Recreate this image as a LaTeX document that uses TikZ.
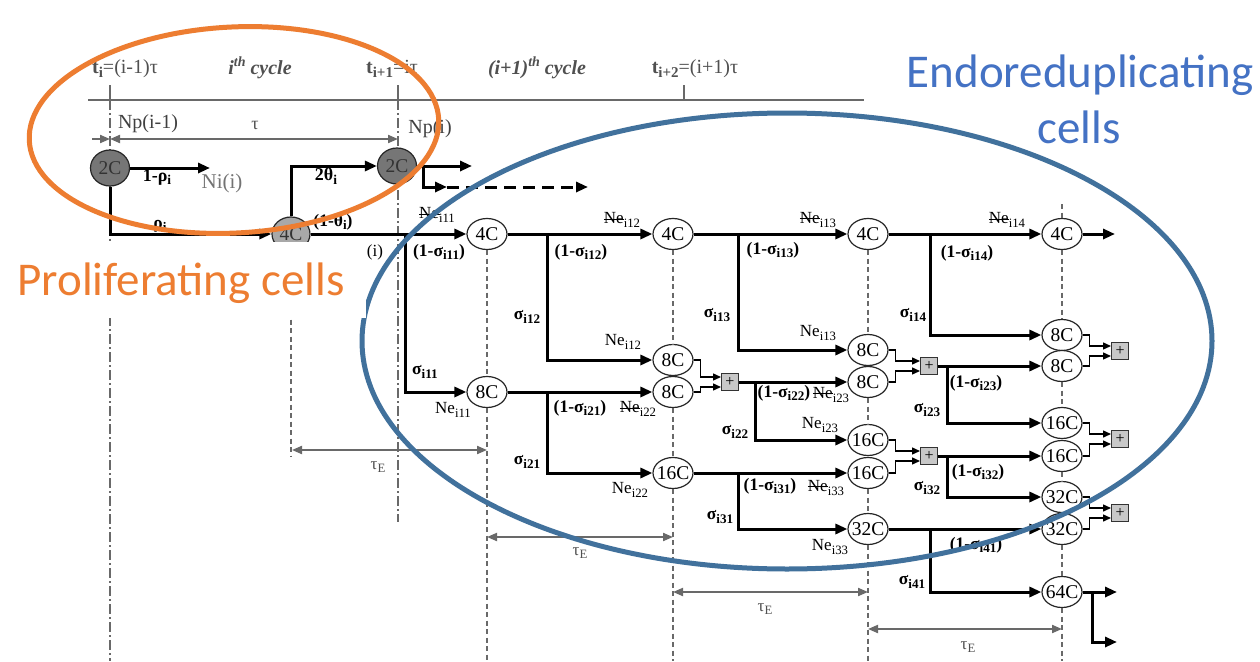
\documentclass[tikz,border=0pt]{standalone}
\usepackage{fontspec}
\setmainfont{Liberation Serif}
\newfontfamily\calib{Carlito}
\usetikzlibrary{arrows.meta,shapes.geometric}
\definecolor{orng}{RGB}{237,125,49}
\definecolor{blueE}{RGB}{65,113,156}
\definecolor{blueT}{RGB}{68,114,196}
\definecolor{gtxt}{RGB}{80,80,80}
\definecolor{gline}{RGB}{105,105,105}
\definecolor{gfillA}{RGB}{118,118,118}
\definecolor{gfillB}{RGB}{168,168,168}
\definecolor{pfill}{RGB}{200,200,200}
\newcommand{\sbs}[1]{\raisebox{-0.45ex}{\scalebox{0.75}{#1}}}
\newcommand{\sps}[1]{\raisebox{0.9ex}{\scalebox{0.7}{#1}}}
\newcommand{\stNe}{\rlap{\rule[0.28em]{1.2em}{0.55pt}}Ne}
\newcommand{\ct}[1]{\makebox[0pt]{#1}}
\begin{document}
\begin{tikzpicture}[x=1pt,y=-1pt,
  cell/.style={ellipse,draw=black!85,line width=1.2pt,fill=white,minimum width=40pt,minimum height=31pt,inner sep=0pt,font=\fontsize{19.5}{19.5}\selectfont},
  gcell/.style={cell,text=black!80},
  pbox/.style={rectangle,draw=black!80,fill=pfill,line width=1pt,minimum size=17pt,inner sep=0pt,font=\fontsize{16}{16}\selectfont},
  flow/.style={line width=3pt,-{Triangle[length=12pt,width=10pt]}},
  joinln/.style={line width=1.4pt,-{Triangle[length=8pt,width=7pt]}},
  gdash/.style={draw=gline,line width=1.4pt,dash pattern=on 5pt off 3.5pt},
  gdd/.style={draw=gline,line width=1.4pt,dash pattern=on 10pt off 3pt on 2pt off 3pt},
  garr/.style={draw=gline,line width=2pt,{Triangle[length=10pt,width=8pt]}-{Triangle[length=10pt,width=8pt]}},
  lb/.style={inner sep=0pt,font=\fontsize{17.5}{17.5}\selectfont\bfseries},
  ne/.style={inner sep=0pt,font=\fontsize{17}{17}\selectfont},
  tl/.style={inner sep=0pt,text=gtxt,font=\fontsize{20}{20}\selectfont},
  te/.style={inner sep=0pt,text=gtxt,font=\fontsize{17}{17}\selectfont},
]
\useasboundingbox (0,0) rectangle (1260,661);
\fill[white] (0,0) rectangle (1260,661);

% time axis
\coordinate (axL) at (88,100); \coordinate (axR) at (864,100);
\coordinate (t1) at (110,100); \coordinate (t2) at (398,100); \coordinate (t3) at (684,100);
\draw[gline,line width=2.8pt] (axL) -- (axR);
\draw[gline,line width=2pt] (t1) -- ++(0,-15);
\draw[gline,line width=2pt] (t2) -- ++(0,-15);
\draw[gline,line width=2pt] (t3) -- ++(0,-15);
\coordinate (t1b) at (110,661); \coordinate (t2b) at (398,522);
\draw[gdd] (t1) -- (t1b);
\draw[gdd] (t2) -- (t2b);

% proliferating nodes
\node[gcell,fill=gfillA,minimum width=39pt,minimum height=36pt] (p1) at (110,168) {\ct{2C}};
\node[gcell,fill=gfillA,minimum width=39pt,minimum height=36pt] (p2) at (397,166) {\ct{2C}};
\node[gcell,fill=gfillB,minimum width=38pt,minimum height=34pt] (g4) at (291,234) {\ct{4C}};

% endoreduplicating nodes
\node[cell] (a0) at (487,234) {\ct{4C}};
\node[cell] (b0) at (487,392) {\ct{8C}};
\node[cell] (a1) at (673,234) {\ct{4C}};
\node[cell] (b1) at (673,360) {\ct{8C}};
\node[cell] (c1) at (673,392) {\ct{8C}};
\node[cell] (d1) at (673,473) {\ct{16C}};
\node[cell] (a2) at (868,234) {\ct{4C}};
\node[cell] (b2) at (868,350) {\ct{8C}};
\node[cell] (c2) at (868,382) {\ct{8C}};
\node[cell] (d2) at (868,440) {\ct{16C}};
\node[cell] (e2) at (868,473) {\ct{16C}};
\node[cell] (f2) at (868,529) {\ct{32C}};
\node[cell] (a3) at (1062,234) {\ct{4C}};
\node[cell] (b3) at (1062,335) {\ct{8C}};
\node[cell] (c3) at (1062,366) {\ct{8C}};
\node[cell] (d3) at (1062,423) {\ct{16C}};
\node[cell] (e3) at (1062,456) {\ct{16C}};
\node[cell] (f3) at (1062,497) {\ct{32C}};
\node[cell] (g3) at (1062,529) {\ct{32C}};
\node[cell] (h3) at (1062,592) {\ct{64C}};
\node[pbox] (x1) at (730,382) {+};
\node[pbox] (x2) at (929,366) {+};
\node[pbox] (x3) at (929,456) {+};
\node[pbox] (x4) at (1120,351) {+};
\node[pbox] (x5) at (1120,439) {+};
\node[pbox] (x6) at (1120,513) {+};

% dashed column lines
\coordinate (g4d) at (291,456);
\coordinate (bot0) at (487,661); \coordinate (bot1) at (673,661);
\coordinate (bot2) at (868,661); \coordinate (bot3) at (1062,661);
\coordinate (top3) at (1062,204);
\draw[gdash] (g4.south) -- (g4d);
\draw[gdash] (a0.south) -- (b0.north);
\draw[gdash] (b0.south) -- (bot0);
\draw[gdash] (a1.south) -- (b1.north);
\draw[gdash] (c1.south) -- (d1.north);
\draw[gdash] (d1.south) -- (bot1);
\draw[gdash] (a2.south) -- (b2.north);
\draw[gdash] (c2.south) -- (d2.north);
\draw[gdash] (e2.south) -- (f2.north);
\draw[gdash] (f2.south) -- (bot2);
\draw[gdash] (top3) -- (a3.north);
\draw[gdash] (a3.south) -- (b3.north);
\draw[gdash] (c3.south) -- (d3.north);
\draw[gdash] (e3.south) -- (f3.north);
\draw[gdash] (g3.south) -- (h3.north);
\draw[gdash] (h3.south) -- (bot3);

% gray measure arrows
\coordinate (np0) at (92,139); \coordinate (np1) at (110,139); \coordinate (np2) at (398,139);
\draw[gline,line width=2pt,-{Triangle[length=10pt,width=8pt]}] (np0) -- (np1);
\draw[garr] (np1) -- (np2);
\coordinate (e1a) at (292,450); \coordinate (e1b) at (487,450);
\coordinate (e2a) at (487,537); \coordinate (e2b) at (673,537);
\coordinate (e3a) at (673,592); \coordinate (e3b) at (868,592);
\coordinate (e4a) at (868,629); \coordinate (e4b) at (1062,629);
\draw[garr] (e1a) -- (e1b);
\draw[garr] (e2a) -- (e2b);
\draw[garr] (e3a) -- (e3b);
\draw[garr] (e4a) -- (e4b);

% flows
\coordinate (ni) at (210,168);
\coordinate (o1) at (472,166); \coordinate (o2) at (423,166);
\coordinate (o3) at (447,187); \coordinate (o4) at (588,187);
\draw[flow] (p1.east) -- (ni);
\draw[flow] (p1.south) |- (g4.west);
\draw[flow] (g4.north) |- (p2.west);
\draw[flow] (p2.east) -- (o1);
\draw[flow] (o2) |- (o3);
\draw[flow,dash pattern=on 12pt off 7pt] (o3) -- (o4);
\coordinate (k0) at (405,234); \coordinate (k1) at (547,234); \coordinate (k2) at (547,392);
\coordinate (k3) at (738,234); \coordinate (k4) at (755,382); \coordinate (k5) at (738,473);
\coordinate (k6) at (930,234); \coordinate (k7) at (947,366); \coordinate (k8) at (947,456);
\coordinate (k9) at (930,529); \coordinate (k10) at (1092,592);
\coordinate (q1) at (1115,234); \coordinate (q2) at (1117,592); \coordinate (q3) at (1117,642);
\draw[flow] (g4.east) -- (a0.west);
\draw[flow] (k0) |- (b0.west);
\draw[flow] (a0.east) -- (a1.west);
\draw[flow] (k1) |- (b1.west);
\draw[flow] (b0.east) -- (c1.west);
\draw[flow] (k2) |- (d1.west);
\draw[flow] (a1.east) -- (a2.west);
\draw[flow] (k3) |- (b2.west);
\draw[flow] (x1.east) -- (c2.west);
\draw[flow] (k4) |- (d2.west);
\draw[flow] (d1.east) -- (e2.west);
\draw[flow] (k5) |- (f2.west);
\draw[flow] (a2.east) -- (a3.west);
\draw[flow] (k6) |- (b3.west);
\draw[flow] (x2.east) -- (c3.west);
\draw[flow] (k7) |- (d3.west);
\draw[flow] (x3.east) -- (e3.west);
\draw[flow] (k8) |- (f3.west);
\draw[flow] (f2.east) -- (g3.west);
\draw[flow] (k9) |- (h3.west);
\draw[flow] (a3.east) -- (q1);
\draw[flow] (h3.east) -- (q2);
\draw[flow] (k10) |- (q3);

% joins into + boxes
\draw[joinln] (b1.east) -- ++(7,0) |- ([yshift=5pt]x1.west);
\draw[joinln] (c1.east) -- ++(7,0) |- ([yshift=-5pt]x1.west);
\draw[joinln] (b2.east) -- ++(7,0) |- ([yshift=5pt]x2.west);
\draw[joinln] (c2.east) -- ++(7,0) |- ([yshift=-5pt]x2.west);
\draw[joinln] (d2.east) -- ++(7,0) |- ([yshift=5pt]x3.west);
\draw[joinln] (e2.east) -- ++(7,0) |- ([yshift=-5pt]x3.west);
\draw[joinln] (b3.east) -- ++(7,0) |- ([yshift=5pt]x4.west);
\draw[joinln] (c3.east) -- ++(7,0) |- ([yshift=-5pt]x4.west);
\draw[joinln] (d3.east) -- ++(7,0) |- ([yshift=5pt]x5.west);
\draw[joinln] (e3.east) -- ++(7,0) |- ([yshift=-5pt]x5.west);
\draw[joinln] (f3.east) -- ++(7,0) |- ([yshift=5pt]x6.west);
\draw[joinln] (g3.east) -- ++(7,0) |- ([yshift=-5pt]x6.west);

% top labels
\node[tl] (lti) at (125,69) {\textbf{t\sbs{i}}=(i-1)τ};
\node[tl,font=\fontsize{20}{20}\selectfont\bfseries\itshape] (lc1) at (260,68) {i\sps{th} cycle};
\node[tl] (lti1) at (392,69) {\textbf{t\sbs{i+1}}=iτ};
\node[tl,font=\fontsize{20}{20}\selectfont\bfseries\itshape] (lc2) at (537,68) {(i+1)\sps{th} cycle};
\node[tl] (lti2) at (695,69) {\textbf{t\sbs{i+2}}=(i+1)τ};
\node[tl,text=black!75] (lnp1) at (148,124) {Np(i-1)};
\node[tl,font=\fontsize{18}{18}\selectfont] (ltau) at (255,125) {τ};
\node[tl,text=black!75] (lnp2) at (430,129) {Np(i)};
\node[lb,font=\fontsize{18}{18}\selectfont\bfseries] (lrho1) at (157,177) {1-ρ\sbs{i}};
\node[tl,text=black!55,font=\fontsize{21}{21}\selectfont] (lni) at (222,183) {Ni(i)};
\node[lb,font=\fontsize{18}{18}\selectfont\bfseries] (lth2) at (326,176) {2θ\sbs{i}};
\node[lb] (lrho) at (160,226) {ρ\sbs{i}};
\node[lb] (lth1) at (333,222) {(1-θ\sbs{i})};
\node[ne] (lip) at (375,252) {(i)};

% column labels
\node[ne] (n1) at (437,215) {\stNe\sbs{i11}};
\node[lb] (s1) at (439,252) {(1-σ\sbs{i11})};
\node[lb] (s2) at (425,372) {σ\sbs{i11}};
\node[ne] (n2) at (453,410) {Ne\sbs{i11}};
\node[ne] (n3) at (622,220) {\stNe\sbs{i12}};
\node[lb] (s3) at (581,252) {(1-σ\sbs{i12})};
\node[lb] (s4) at (527,317) {σ\sbs{i12}};
\node[ne] (n4) at (623,342) {Ne\sbs{i12}};
\node[lb] (s5) at (580,408) {(1-σ\sbs{i21})};
\node[ne] (n5) at (638,409) {\stNe\sbs{i22}};
\node[lb] (s6) at (527,462) {σ\sbs{i21}};
\node[ne] (n6) at (630,490) {Ne\sbs{i22}};
\node[ne] (n7) at (818,220) {\stNe\sbs{i13}};
\node[lb] (s7) at (773,250) {(1-σ\sbs{i13})};
\node[lb] (s8) at (717,315) {σ\sbs{i13}};
\node[ne] (n8) at (818,333) {Ne\sbs{i13}};
\node[lb] (s9) at (784,393) {(1-σ\sbs{i22})};
\node[ne] (n9) at (831,395) {\stNe\sbs{i23}};
\node[lb] (s10) at (735,432) {σ\sbs{i22}};
\node[ne] (n10) at (820,425) {Ne\sbs{i23}};
\node[lb] (s11) at (770,486) {(1-σ\sbs{i31})};
\node[ne] (n11) at (826,488) {\stNe\sbs{i33}};
\node[lb] (s12) at (720,517) {σ\sbs{i31}};
\node[ne] (n12) at (830,547) {Ne\sbs{i33}};
\node[ne] (n13) at (1007,220) {\stNe\sbs{i14}};
\node[lb] (s13) at (967,253) {(1-σ\sbs{i14})};
\node[lb] (s14) at (913,315) {σ\sbs{i14}};
\node[lb] (s15) at (976,383) {(1-σ\sbs{i23})};
\node[lb] (s16) at (927,410) {σ\sbs{i23}};
\node[lb] (s17) at (978,472) {(1-σ\sbs{i32})};
\node[lb] (s18) at (927,488) {σ\sbs{i32}};
\node[lb] (s19) at (976,545) {(1-σ\sbs{i41})};
\node[lb] (s20) at (912,582) {σ\sbs{i41}};
\node[te] (te1) at (378,467) {τ\sbs{E}};
\node[te] (te2) at (580,553) {τ\sbs{E}};
\node[te] (te3) at (765,609) {τ\sbs{E}};
\node[te] (te4) at (968,647) {τ\sbs{E}};

% overlay
\draw[blueE,line width=5pt] (787,341) ellipse [x radius=425, y radius=228];
\fill[white] (0,242) rectangle (366,318);
\node[anchor=base,inner sep=0pt,text=orng,font=\calib\fontsize{47}{47}\selectfont] (prolif) at (181,295) {Proliferating cells};
\draw[orng,line width=5pt,rotate around={3:(234,130)}] (234,130) ellipse [x radius=205, y radius=103];
\node[anchor=base,inner sep=0pt,text=blueT,font=\calib\fontsize{47}{47}\selectfont] (endo1) at (1080,88) {Endoreduplicating};
\node[anchor=base,inner sep=0pt,text=blueT,font=\calib\fontsize{47}{47}\selectfont] (endo2) at (1079,143) {cells};
\end{tikzpicture}
\end{document}
